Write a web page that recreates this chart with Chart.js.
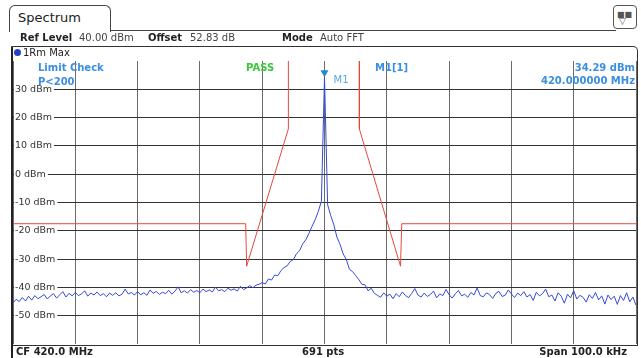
<!DOCTYPE html>
<html>
<head>
<meta charset="utf-8">
<script src="https://cdn.jsdelivr.net/npm/chart.js@4.4.1/dist/chart.umd.min.js"></script>
<style>
  body { margin: 0; background: #fff; font-family: "DejaVu Sans", Verdana, sans-serif; }
  #wrap { position: relative; width: 641px; height: 358px; overflow: hidden; }
  #spec { position: absolute; left: 0; top: 0; }
  .t { position: absolute; white-space: nowrap; font-size: 10px; color: #222; line-height: 12px; }
  .b { font-weight: bold; }
  .blue { color: #3a8fe0; font-weight: bold; }
</style>
</head>
<body>
<div id="wrap">
  <canvas id="spec" width="641" height="358"></canvas>

  <!-- header tab -->
  <div style="position:absolute;left:9px;top:5px;width:100px;height:26px;border:1px solid #444;border-bottom:none;border-radius:6px 6px 0 0;background:#fff"></div>
  <div style="position:absolute;left:110px;top:30px;width:506px;height:0;border-top:1px solid #444"></div>
  <div class="t" style="left:18px;top:10px;font-size:13px;line-height:16px">Spectrum</div>
  <div style="position:absolute;left:613px;top:5px;width:22px;height:22px;border:1px solid #555;border-radius:4px;background:#fff"></div>
  <div class="t" style="left:617px;top:9px;font-size:8px;color:#555">&#9632;&#9632;</div>
  <div class="t" style="left:619px;top:15px;font-size:9px;color:#555">&#9661;</div>

  <!-- info row -->
  <div class="t b" style="left:20px;top:32px">Ref Level</div>
  <div class="t" style="left:79px;top:32px;color:#444">40.00 dBm</div>
  <div class="t b" style="left:148px;top:32px">Offset</div>
  <div class="t" style="left:190px;top:32px;color:#444">52.83 dB</div>
  <div class="t b" style="left:282px;top:32px">Mode</div>
  <div class="t" style="left:320px;top:32px;color:#444">Auto FFT</div>

  <!-- diagram frame -->
  <div style="position:absolute;left:11px;top:46px;width:624px;height:298px;border:1px solid #333;border-left:2px solid #222;border-radius:0 5px 0 0"></div>
  <div style="position:absolute;left:11px;top:344px;width:0;height:14px;border-left:2px solid #222"></div>
  <div style="position:absolute;left:14px;top:49px;width:7px;height:7px;border-radius:50%;background:#2440c8"></div>
  <div class="t" style="left:23px;top:47px">1Rm Max</div>

  <!-- annotations -->
  <div class="t blue" style="left:38px;top:62px">Limit Check</div>
  <div class="t blue" style="left:38px;top:76px">P&lt;200</div>
  <div class="t b" style="left:246px;top:62px;color:#39c83a">PASS</div>
  <div class="t blue" style="left:375px;top:62px">M1[1]</div>
  <div class="t blue" style="right:6px;top:62px">34.29 dBm</div>
  <div class="t blue" style="right:6px;top:75px">420.000000 MHz</div>

  <!-- footer -->
  <div class="t b" style="left:16px;top:346px">CF 420.0 MHz</div>
  <div class="t b" style="left:302px;top:346px">691 pts</div>
  <div class="t b" style="right:14px;top:346px">Span 100.0 kHz</div>
</div>

<script>
// sweep: offset from centre frequency, kHz
const startKHz = -50;
const stepKHz = 0.5;

// trace 1 (max hold), dBm
const levelsLeft = [
  -45.5, -44.2, -45.0, -43.6, -44.8, -43.1, -44.5, -42.9, -44.0, -43.3,
  -42.5, -44.1, -43.0, -42.2, -43.8, -42.6, -41.5, -43.4, -42.1, -43.0,
  -41.8, -42.9, -42.3, -41.2, -43.1, -42.0, -42.7, -41.6, -42.9, -42.2,
  -43.3, -42.0, -42.8, -41.9, -43.0, -42.4, -40.6, -42.3, -41.8, -42.7,
  -41.5, -42.6, -41.9, -42.8, -40.9, -42.1, -41.4, -42.5, -41.7, -42.2,
  -41.0, -42.4, -41.3, -39.8, -41.9, -41.2, -42.0, -40.8, -41.7, -41.1,
  -41.9, -40.6, -41.5, -40.9, -41.6, -39.9, -41.2, -40.8, -41.5, -40.3,
  -41.0, -40.5, -41.3, -39.6, -40.8, -40.2
];
const levelsRise = [
  -39.4, -40.1, -39.2, -38.9, -38.3, -38.8, -37.0, -37.4, -35.6, -35.9,
  -34.1, -33.0, -32.4, -30.8, -30.2, -28.1, -27.0, -24.6, -23.2, -20.9,
  -18.4, -16.1, -13.2, -9.6
];
const levelsPeak = [34.29];
const levelsFall = [
  -10.8, -14.6, -17.9, -22.3, -24.8, -28.2, -30.1, -33.6, -34.4, -35.8,
  -37.2, -38.9, -39.1, -41.2, -40.3, -42.1
];
const levelsRight = [
  -42.8, -43.5, -41.9, -43.1, -42.4, -44.0, -42.2, -43.3, -41.6, -42.9,
  -43.6, -42.1, -40.4, -42.7, -43.4, -42.0, -43.2, -42.5, -41.3, -43.7,
  -42.3, -42.9, -40.7, -42.6, -43.8, -42.2, -41.1, -43.0, -42.4, -43.5,
  -41.8, -42.7, -40.2, -42.9, -43.3, -41.9, -42.6, -43.9, -42.1, -41.4,
  -43.2, -42.8, -40.9, -42.3, -43.6, -42.0, -42.9, -41.5, -43.4, -42.5,
  -44.6, -41.7, -43.0, -42.2, -40.6, -43.3, -42.7, -44.8, -41.9, -43.1,
  -45.6, -42.4, -43.7, -41.2, -44.1, -42.8, -43.5, -45.2, -42.6, -43.9,
  -41.8, -44.4, -43.0, -45.9, -42.7, -44.3, -43.1, -46.0, -42.9, -44.6,
  -41.9, -45.1, -43.4, -46.3
];

// limit line
const limitFreqs  = [-50, -12.65, -12.5, -5.8, -5.8, 5.6, 5.6, 12.2, 12.4, 50];
const limitLevels = [-17.5, -17.5, -32.5, 16, 60, 60, 16, -32.5, -17.5, -17.5];

const yTicks = [40, 30, 20, 10, 0, -10, -20, -30, -40, -50, -60];
const markerFreq = 0;
const markerLevel = 34.29;

const levels = levelsLeft.concat(levelsRise, levelsPeak, levelsFall, levelsRight);
const traceData = levels.map((v, i) => ({ x: startKHz + i * stepKHz, y: v }));
const limitData = limitFreqs.map((f, i) => ({ x: f, y: limitLevels[i] }));

const markerPlugin = {
  id: "marker",
  afterDatasetsDraw(chart) {
    const ctx = chart.ctx;
    const x = chart.scales.x.getPixelForValue(markerFreq);
    const y = chart.scales.y.getPixelForValue(markerLevel);
    ctx.save();
    ctx.fillStyle = "#1e8ad8";
    ctx.beginPath();
    ctx.moveTo(x - 4, y - 7);
    ctx.lineTo(x + 4, y - 7);
    ctx.lineTo(x, y);
    ctx.closePath();
    ctx.fill();
    ctx.fillStyle = "#5aa8e6";
    ctx.font = "10px 'DejaVu Sans'";
    ctx.textBaseline = "middle";
    ctx.fillText("M1", x + 9, y + 3);
    ctx.restore();
  }
};

new Chart(document.getElementById("spec").getContext("2d"), {
  type: "line",
  data: {
    datasets: [{
      label: "Limit",
      data: limitData,
      borderColor: "#e5483b",
      borderWidth: 1,
      pointRadius: 0,
      tension: 0
    }, {
      label: "1Rm Max",
      data: traceData,
      borderColor: "#3549d8",
      borderWidth: 1,
      pointRadius: 0,
      tension: 0
    }]
  },
  options: {
    responsive: false,
    animation: false,
    events: [],
    layout: { padding: { left: 9, top: 61, right: 5, bottom: 14 } },
    plugins: { legend: { display: false }, tooltip: { enabled: false } },
    scales: {
      x: {
        type: "linear",
        min: -50,
        max: 50,
        ticks: { display: false, stepSize: 10 },
        grid: { color: "#6a6a6a", drawTicks: false },
        border: { display: false }
      },
      y: {
        min: -60,
        max: 40,
        afterBuildTicks: (scale) => { scale.ticks = yTicks.map(v => ({ value: v })); },
        ticks: {
          mirror: true,
          padding: 2,
          color: "#333",
          font: { family: "DejaVu Sans", size: 9.5 },
          showLabelBackdrop: true,
          backdropColor: "#fff",
          backdropPadding: { left: 1, right: 2, top: 0, bottom: 0 },
          callback: (v) => (v === 40 || v === -60) ? null : v + " dBm"
        },
        grid: { color: "#333", drawTicks: false },
        border: { display: false }
      }
    }
  },
  plugins: [markerPlugin]
});
</script>
</body>
</html>
